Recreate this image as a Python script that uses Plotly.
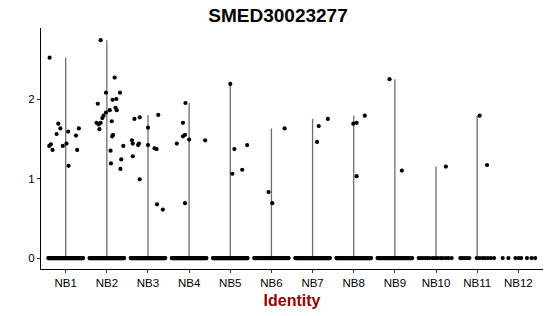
import numpy as np
import plotly.graph_objects as go

groups = ["NB1", "NB2", "NB3", "NB4", "NB5", "NB6", "NB7", "NB8", "NB9", "NB10", "NB11", "NB12"]

# non-zero expression values per identity
nb1_vals = [2.52, 1.69, 1.63, 1.56, 1.63, 1.59, 1.54, 1.43, 1.41, 1.36, 1.41, 1.44, 1.36, 1.16]
nb2_vals = [2.74, 2.27, 2.08, 2.08, 1.99, 2.00, 1.94, 1.89, 1.86, 1.86, 1.83, 1.79, 1.76, 1.70,
            1.68, 1.70, 1.62, 1.72, 1.53, 1.55, 1.41, 1.35, 1.24, 1.19, 1.12]
nb3_vals = [1.75, 1.77, 1.80, 1.64, 1.48, 1.44, 1.42, 1.44, 1.42, 1.38, 1.37, 1.28, 0.99, 0.675, 0.61]
nb4_vals = [1.95, 1.70, 1.53, 1.55, 1.44, 1.49, 1.48, 0.69]
nb5_vals = [2.19, 1.37, 1.42, 1.06, 1.11]
nb6_vals = [1.63, 0.83, 0.69]
nb7_vals = [1.75, 1.66, 1.46]
nb8_vals = [1.79, 1.69, 1.70, 1.03]
nb9_vals = [2.25, 1.10]
nb10_vals = [1.15]
nb11_vals = [1.79, 1.17]
nb12_vals = []

# number of cells with zero expression per identity
zero_counts = [90, 90, 90, 90, 90, 45, 90, 90, 70, 14, 12, 8]

values = [nb1_vals, nb2_vals, nb3_vals, nb4_vals, nb5_vals, nb6_vals,
          nb7_vals, nb8_vals, nb9_vals, nb10_vals, nb11_vals, nb12_vals]

# horizontal jitter (positions, not data)
jitter = [
    [-0.39, -0.18, -0.13, -0.22, 0.32, 0.06, 0.25, -0.36, -0.40, -0.32, -0.07, 0.02, 0.28, 0.07],
    [-0.15, 0.19, -0.02, 0.32, 0.14, 0.23, -0.22, 0.21, 0.24, 0.07, -0.02, -0.08, -0.11, -0.25,
     -0.20, -0.15, -0.18, 0.12, 0.13, 0.15, 0.40, 0.09, 0.35, 0.10, 0.33],
    [-0.33, -0.20, 0.25, 0.0, -0.39, -0.37, -0.24, -0.22, 0.0, 0.16, 0.21, -0.37, -0.20, 0.22, 0.36],
    [-0.09, -0.15, -0.15, -0.10, -0.30, 0.0, 0.39, -0.10],
    [0.0, 0.10, 0.41, 0.05, 0.29],
    [0.32, -0.07, 0.02],
    [0.37, 0.15, 0.11],
    [0.27, -0.01, 0.07, 0.07],
    [-0.13, 0.17],
    [0.24],
    [0.06, 0.24],
    [],
]
zero_jitter_sparse = {
    9: [-0.42, -0.37, -0.32, -0.26, -0.21, -0.15, -0.08, -0.02, 0.04, 0.11, 0.17, 0.24, 0.30, 0.38],
    10: [-0.41, -0.36, -0.30, -0.25, -0.19, -0.01, 0.06, 0.13, 0.19, 0.26, 0.33, 0.41],
    11: [-0.38, -0.24, -0.07, 0.01, 0.07, 0.21, 0.32, 0.41],
}

fig = go.Figure()

# violin outlines (degenerate: a thin line from 0 to the group max)
for i, vals in enumerate(values):
    if len(vals) == 0:
        continue
    xpos = i + 1
    fig.add_trace(go.Scatter(x=[xpos, xpos], y=[0, max(vals)], mode="lines",
                             line=dict(color="#6e6e6e", width=1.3),
                             hoverinfo="skip", showlegend=False))

px_all, py_all = [], []
for i, vals in enumerate(values):
    xpos = i + 1
    for v, j in zip(vals, jitter[i]):
        px_all.append(xpos + j)
        py_all.append(v)
    if i in zero_jitter_sparse:
        offs = zero_jitter_sparse[i][:zero_counts[i]]
    else:
        offs = np.linspace(-0.42, 0.42, zero_counts[i])
    for o in offs:
        px_all.append(xpos + o)
        py_all.append(0.0)

fig.add_trace(go.Scatter(x=px_all, y=py_all, mode="markers",
                         marker=dict(color="black", size=4.2, line=dict(width=0)),
                         hoverinfo="skip", showlegend=False))

font_family = "Liberation Sans, Arial, sans-serif"
fig.update_layout(
    width=550, height=316,
    margin=dict(l=41, r=7, t=28, b=47),
    paper_bgcolor="white", plot_bgcolor="white",
    font=dict(family=font_family, color="black"),
    title=dict(text="<b>SMED30023277</b>", x=278/550, xref="container", xanchor="center",
               y=1 - 15/316, yref="container", yanchor="middle",
               font=dict(size=19, color="black", family=font_family)),
    showlegend=False,
)
fig.update_xaxes(
    range=[0.4, 12.6], tickmode="array", tickvals=list(range(1, 13)), ticktext=groups,
    showline=True, linecolor="black", linewidth=1.2, ticks="outside", ticklen=3,
    tickcolor="#333333", tickwidth=1, showgrid=False, zeroline=False,
    tickfont=dict(size=11.5, color="black"),
    title=dict(text="<b>Identity</b>", font=dict(size=16, color="#990000"), standoff=6),
)
fig.update_yaxes(
    range=[-0.138, 2.893], tickmode="array", tickvals=[0, 1, 2], ticktext=["0", "1", "2"],
    showline=True, linecolor="black", linewidth=1.2, ticks="outside", ticklen=3,
    tickcolor="#333333", tickwidth=1, showgrid=False, zeroline=False,
    tickfont=dict(size=11.5, color="black"),
)

fig.write_html("out.html")
